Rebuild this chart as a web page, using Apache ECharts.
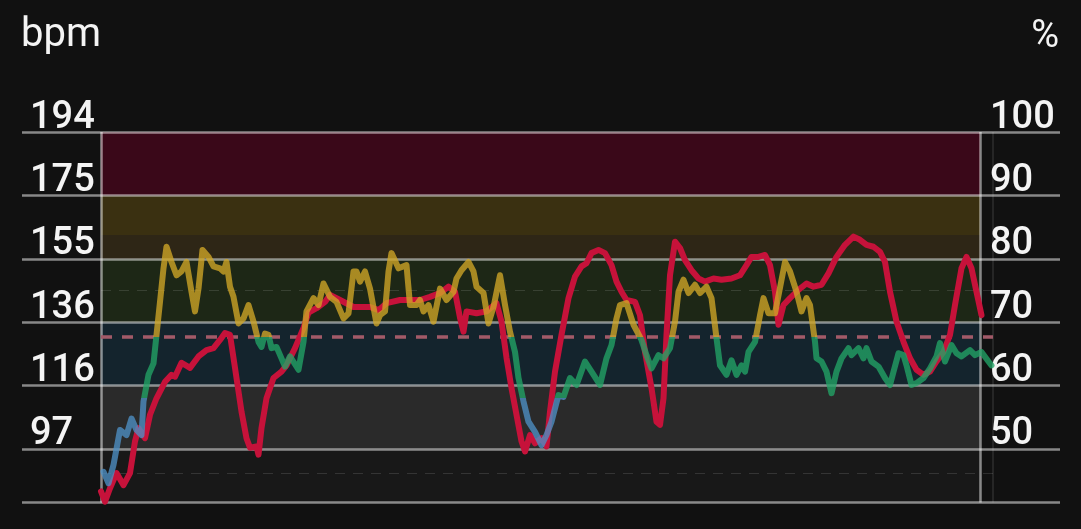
<!DOCTYPE html>
<html>
<head>
<meta charset="utf-8">
<script src="https://cdn.jsdelivr.net/npm/echarts@6/dist/echarts.min.js"></script>
<style>
  html, body { margin: 0; padding: 0; background: #111111; }
  #chart { width: 1081px; height: 529px; }
</style>
</head>
<body>
<div id="chart"></div>
<script>
// ---- data (time index, % of max HR 194 bpm) ----
const MAX_HR = 194;
const leftTitle = 'bpm';
const rightTitle = '%';

// red series
const redT = [0,0.8,1.8,3.1,4.5,5.8,6.8,7.5,8.8,9.8,11.1,12.8,14.1,14.8,16.1,17.8,19.5,21.1,22.5,23.8,24.8,25.8,26.8,28.1,29.1,29.8,31.1,31.5,32.1,33.1,34.5,36.1,37.1,38.8,40.5,41.5,43.1,44.8,45.8,47.8,50.5,53.8,55.5,57.1,59.8,63.8,65.8,67.8,69.5,70.8,71.8,72.5,73.1,75.1,77.1,79.1,80.1,81.1,82.1,83.1,84.1,84.8,85.8,86.8,88.1,89.1,89.8,90.8,92.1,93.5,94.8,96.1,97.1,98.1,99.5,100.8,102.1,103.1,104.1,105.1,106.8,107.8,108.8,110.1,111.1,111.8,112.5,113.1,113.8,114.8,115.8,116.8,118.1,119.5,120.8,122.5,124.1,126.1,127.8,129.1,130.1,131.5,132.8,133.8,134.8,135.5,136.5,137.8,139.5,141.1,142.5,144.1,145.5,147.1,148.8,150.5,151.8,153.1,154.5,155.8,156.8,157.8,159.1,160.5,161.8,163.1,164.5,165.8,167.1,168.5,169.8,170.8,172.1,173.1,174.1,175.1,176.1];
const redPct = [43.3,41.7,43.8,46.2,44.3,46.2,51.2,53.3,51.7,55.4,58.0,60.6,61.7,61.4,63.6,62.8,64.6,65.6,65.9,67.2,68.3,68.0,62.8,55.9,51.7,50.2,50.4,49.1,53.3,58.0,61.2,62.2,63.2,65.9,69.1,71.5,72.2,73.2,74.3,73.5,72.4,72.4,71.9,73.0,73.5,73.5,74.0,74.6,75.6,74.8,70.7,68.5,71.7,71.4,71.7,73.0,70.1,64.4,59.6,55.4,51.2,49.6,52.2,50.9,51.7,50.4,55.9,62.2,68.0,73.8,77.2,78.8,79.3,80.9,81.4,80.9,79.0,76.4,74.8,73.5,73.2,71.1,65.3,59.6,54.3,53.8,58.0,68.0,77.4,82.7,81.7,79.8,78.2,76.9,76.4,76.9,76.7,76.9,77.4,79.0,80.3,80.3,80.6,79.0,74.8,69.6,72.7,73.8,75.1,76.1,75.6,75.9,77.7,80.3,82.2,83.5,83.0,82.2,81.9,81.1,79.5,74.8,70.1,66.9,64.3,62.5,61.7,62.2,63.8,65.3,68.0,72.7,78.5,80.3,78.5,74.8,71.1];

// zone-coloured heart-rate series
const hrT = [0.5,1.5,2.5,3.8,5.1,6.1,7.1,8.1,8.5,9.5,10.5,11.1,11.8,12.5,13.1,14.1,15.1,16.1,17.1,18.1,18.8,19.5,20.3,21.5,22.5,23.8,24.5,25.1,25.8,26.5,27.5,28.5,29.5,30.5,31.5,32.1,32.8,33.5,34.1,35.1,36.1,36.8,37.8,39.5,40.5,41.1,42.5,43.5,44.5,45.8,47.1,48.5,49.5,50.5,51.1,51.8,52.8,53.8,55.1,55.8,56.8,57.5,58.1,59.5,61.1,61.8,63.1,63.8,64.5,65.5,66.5,67.8,69.1,70.5,71.1,72.1,73.5,74.5,75.1,76.5,77.5,78.5,79.8,80.8,81.8,82.8,83.5,84.5,85.5,86.8,88.1,89.1,90.1,91.5,92.5,93.8,95.1,96.8,98.1,99.8,101.1,102.1,103.1,103.8,105.1,106.5,108.1,109.1,110.1,111.5,112.5,113.8,114.8,115.5,116.5,117.5,118.8,119.8,121.1,122.1,123.1,123.8,125.1,126.1,127.1,128.1,128.8,129.5,130.8,131.8,132.5,133.5,134.8,136.8,137.8,139.1,140.1,141.1,141.8,142.8,143.1,144.1,145.1,146.1,147.1,148.1,149.5,150.1,151.5,152.5,153.1,154.1,155.5,156.8,157.8,158.5,159.5,160.5,161.1,162.1,163.1,164.5,165.8,167.1,167.8,168.8,170.1,171.1,172.1,173.8,174.8,176.1,177.5,178.1];
const hrPct = [46.4,44.6,47.5,53.0,52.2,54.8,53.0,52.2,57.5,61.7,63.5,68.0,73.2,78.5,81.9,79.5,77.4,78.0,79.5,74.8,71.7,75.3,81.4,80.3,78.8,78.5,78.0,79.5,75.6,74.0,69.8,70.6,72.7,70.1,66.9,66.1,68.2,68.0,65.9,66.1,64.3,63.0,64.6,62.5,66.9,71.7,73.8,72.7,76.1,74.0,73.2,70.6,71.4,78.0,78.0,76.4,78.0,75.3,69.8,71.1,71.7,78.0,80.9,78.5,79.0,72.7,72.7,73.5,71.7,72.7,70.1,75.3,73.5,74.8,76.9,78.2,79.5,78.0,75.6,74.6,69.8,72.4,77.4,72.7,68.5,65.3,61.2,57.5,54.3,52.7,50.6,52.2,54.3,58.5,58.2,61.2,60.1,63.8,62.2,60.1,64.3,66.4,70.6,72.7,73.0,69.6,67.2,64.8,62.7,64.8,64.3,65.9,70.1,74.8,76.7,74.6,75.9,74.6,75.6,73.8,67.5,63.2,61.7,64.0,61.7,63.2,62.2,65.3,66.9,71.1,73.8,71.4,71.4,79.5,78.0,74.8,71.7,73.8,72.7,66.9,64.3,63.8,62.2,58.8,62.2,64.3,65.9,64.8,65.9,64.3,65.9,63.8,63.0,61.2,60.1,62.2,65.1,64.8,63.2,60.1,60.4,61.2,62.7,64.6,66.7,63.8,66.4,65.1,64.6,65.6,64.8,65.3,63.8,63.2];

// zone boundaries (% of max HR)
const zoneBounds = [41.56, 50, 60, 70, 80, 83.75, 90, 100];
const zoneColors = ['#181818', '#2a2a2a', '#14242d', '#1d2716', '#2e2616', '#3a3011', '#3a0819'];
const colourThresholds = [58, 67.7];     // blue / green / yellow line colours
const refLine = 67.7;                    // red dashed reference
const faintLines = [75, 46.2];
const tStart = 0, tZoneEnd = 175.8, tEnd = 178.4;

const chart = echarts.init(document.getElementById('chart'), null, { renderer: 'canvas' });

const gridLineColor = 'rgba(255,255,255,0.5)';
const zoneAreas = [];
for (let i = 0; i < zoneColors.length; i++) {
  zoneAreas.push([
    { xAxis: tStart, yAxis: zoneBounds[i], itemStyle: { color: zoneColors[i] } },
    { xAxis: tZoneEnd, yAxis: zoneBounds[i + 1] }
  ]);
}

const markLines = [
  { xAxis: tStart, lineStyle: { color: gridLineColor, width: 2.5, type: 'solid' } },
  { xAxis: tZoneEnd, lineStyle: { color: gridLineColor, width: 2.5, type: 'solid' } },
  { xAxis: tEnd, lineStyle: { color: 'rgba(255,255,255,0.12)', width: 1.5, type: 'solid' } },
  [{ coord: [tStart, refLine], lineStyle: { color: '#a25a68', width: 3.5, type: [11, 10] } }, { coord: [tEnd, refLine] }]
];
faintLines.forEach(v => {
  markLines.push([{ coord: [tStart, v], lineStyle: { color: 'rgba(255,255,255,0.12)', width: 1.2, type: [10, 8] } }, { coord: [tEnd, v] }]);
});

const fmtBpm = v => (v < 45 ? '' : String(Math.round(v * MAX_HR / 100)));
const fmtPct = v => (v < 45 ? '' : String(Math.round(v)));

const labelBase = { inside: true, verticalAlign: 'bottom', lineHeight: 28, color: '#f4f4f4', fontSize: 38, fontWeight: 500, fontFamily: 'Roboto' };

chart.setOption({
  backgroundColor: '#111111',
  animation: false,
  textStyle: { fontFamily: 'Roboto' },
  grid: { left: 22, right: 21, top: 132, bottom: 26.5, containLabel: false },
  graphic: [
    { type: 'text', left: 21, top: 16, style: { text: leftTitle, fill: '#f4f4f4', font: '40px Roboto' } },
    { type: 'text', right: 22, top: 18, style: { text: rightTitle, fill: '#f4f4f4', font: '38px Roboto' } }
  ],
  xAxis: { type: 'value', min: -15.8, max: 191.8, show: false },
  yAxis: [
    {
      type: 'value', min: zoneBounds[0], max: 100, splitNumber: 5, z: 2,
      axisLine: { show: false }, axisTick: { show: false },
      splitLine: { show: true, lineStyle: { color: gridLineColor, width: 2.5 } },
      axisLabel: Object.assign({ margin: 8, formatter: fmtBpm }, labelBase)
    },
    {
      type: 'value', position: 'right', min: zoneBounds[0], max: 100, splitNumber: 5, z: 2,
      axisLine: { show: false }, axisTick: { show: false }, splitLine: { show: false },
      axisLabel: Object.assign({ margin: 70, align: 'left', formatter: fmtPct }, labelBase)
    }
  ],
  visualMap: {
    show: false, type: 'piecewise', seriesIndex: 1, dimension: 1,
    pieces: [
      { lt: colourThresholds[0], color: '#4d8fc4' },
      { gte: colourThresholds[0], lt: colourThresholds[1], color: '#22a466' },
      { gte: colourThresholds[1], color: '#d0a626' }
    ]
  },
  series: [
    {
      type: 'line', z: 3, symbol: 'none', silent: true,
      data: redT.map((t, i) => [t, redPct[i]]),
      lineStyle: { color: '#c6123a', width: 6, cap: 'round', join: 'round' },
      markArea: { silent: true, z: 1, data: zoneAreas },
      markLine: { silent: true, z: 2.5, symbol: ['none', 'none'], label: { show: false }, data: markLines }
    },
    {
      type: 'line', z: 4, symbol: 'none', silent: true,
      data: hrT.map((t, i) => [t, hrPct[i]]),
      lineStyle: { width: 6, opacity: 0.78, cap: 'round', join: 'round' }
    }
  ]
});
</script>
</body>
</html>
